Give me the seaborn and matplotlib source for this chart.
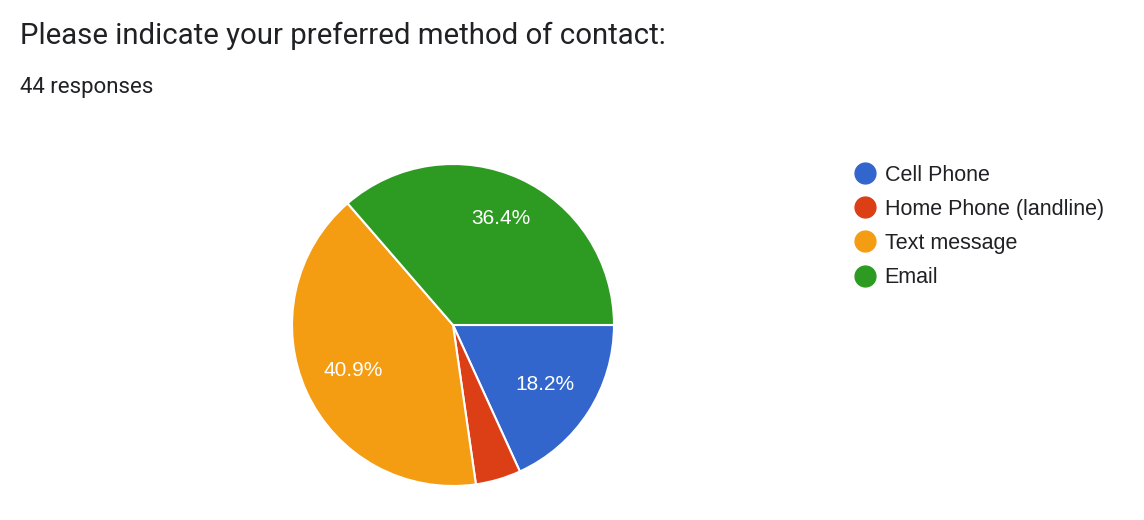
import matplotlib
matplotlib.use('Agg')
import matplotlib.pyplot as plt
from matplotlib.lines import Line2D
import seaborn as sns

# data
categories = ['Cell Phone', 'Home Phone (landline)', 'Text message', 'Email']
counts = [8, 2, 18, 16]
colors = ['#3366cc', '#dc3e15', '#f49c12', '#2d9b22']
title = 'Please indicate your preferred method of contact:'
subtitle = '44 responses'

sns.set_theme(style='white')
plt.rcParams['font.family'] = ['Roboto', 'DejaVu Sans']
chart_font = ['Liberation Sans', 'DejaVu Sans']

W, H = 1144, 520
fig = plt.figure(figsize=(W / 100, H / 100), dpi=100)
fig.patch.set_facecolor('white')

# pie axes: centre ~(453, 325), radius ~161 px
cx, cy, r = 453, 325, 161
ax = fig.add_axes([(cx - r) / W, (H - cy - r) / H, 2 * r / W, 2 * r / H])


def pct_label(p):
    return f'{p:.1f}%' if p >= 5 else ''


wedges, texts, autotexts = ax.pie(
    counts, colors=colors, startangle=0, counterclock=False,
    autopct=pct_label, pctdistance=0.68,
    wedgeprops=dict(edgecolor='white', linewidth=1.5),
    textprops=dict(color='white', fontsize=15, family=chart_font),
)
# google puts the big slice label a bit further out
x, y = autotexts[3].get_position()
autotexts[3].set_position((x * 1.05, y * 1.07))
ax.set_xlim(-1, 1)
ax.set_ylim(-1, 1)
ax.set_aspect('equal')
ax.axis('off')

fig.text(20 / W, 1 - 36 / H, title, fontsize=21.2, color='#202124', va='center', ha='left')
fig.text(20 / W, 1 - 87 / H, subtitle, fontsize=16, color='#202124', va='center', ha='left')

handles = [Line2D([0], [0], marker='o', linestyle='', markersize=15,
                  markerfacecolor=c, markeredgecolor=c) for c in colors]
fig.legend(handles, categories, loc='upper left', bbox_to_anchor=(841 / W, 1 - 154 / H),
           frameon=False, prop={'family': chart_font, 'size': 15.5},
           labelcolor='#202124', handletextpad=0.33, labelspacing=0.61, borderpad=0,
           handlelength=1.2)

fig.savefig('out.png', dpi=100, facecolor='white')
